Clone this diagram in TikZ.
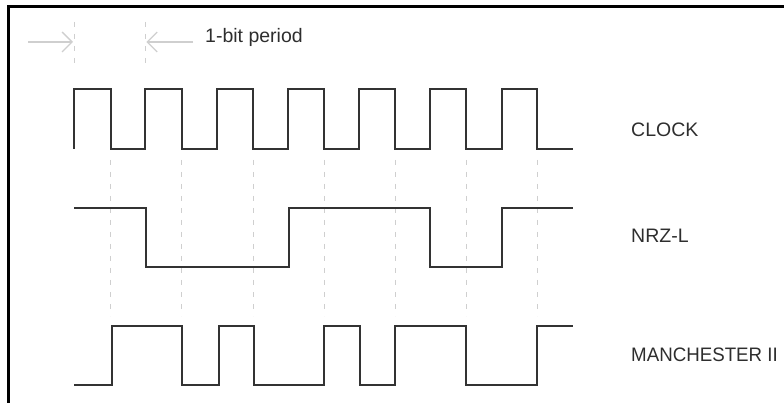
\documentclass[tikz,border=0pt]{standalone}
\usepackage{fontspec}
\setmainfont{Liberation Sans}
\usetikzlibrary{arrows.meta}
\definecolor{wavecol}{HTML}{333333}
\definecolor{guidecol}{HTML}{CFCFCF}
\definecolor{txtcol}{HTML}{2E2E2E}
\tikzset{
  frame/.style={line width=2.5pt, draw=black},
  wave/.style={line width=2pt, draw=wavecol, line join=miter},
  guide/.style={line width=1pt, draw=guidecol, dash pattern=on 5pt off 7pt},
  dimarrow/.style={line width=1.3pt, draw=guidecol, -{Straight Barb[length=10pt,width=20pt]}},
  lbl/.style={anchor=base west, inner sep=0pt, text=txtcol, font=\fontsize{19.5}{23}\selectfont}
}
\begin{document}
\begin{tikzpicture}[x=1pt, y=-1pt]
\useasboundingbox (0,0) rectangle (784,403);
% frame
\draw[frame] (8.7,404) -- (8.7,6.5) -- (785,6.5);
% bit-period markers
\draw[guide] (74,22) -- (74,66);
\draw[guide] (145.3,22) -- (145.3,66);
\coordinate (la) at (28,42);
\coordinate (lb) at (73,42);
\coordinate (ra) at (193,42);
\coordinate (rb) at (146.3,42);
\draw[dimarrow] (la) -- (lb);
\draw[dimarrow] (ra) -- (rb);
\node[lbl] (period) at (205,43) {1-bit period};
% mid-bit guides
\foreach \x in {110.6,181.9,253.2,324.0,395.3,466.3,537.4}
  \draw[guide] (\x,160) -- (\x,316);
% clock
\draw[wave] (74,149) -- (74,89) -- (110.6,89) -- (110.6,149) -- (145.3,149) -- (145.3,89)
  -- (181.9,89) -- (181.9,149) -- (216.6,149) -- (216.6,89)
  -- (253.2,89) -- (253.2,149) -- (287.9,149) -- (287.9,89)
  -- (324.0,89) -- (324.0,149) -- (359.1,149) -- (359.1,89)
  -- (395.3,89) -- (395.3,149) -- (430.4,149) -- (430.4,89)
  -- (466.3,89) -- (466.3,149) -- (501.7,149) -- (501.7,89)
  -- (537.4,89) -- (537.4,149) -- (573,149);
% NRZ-L
\draw[wave] (74,208) -- (146,208) -- (146,267) -- (288.6,267) -- (288.6,208)
  -- (430.4,208) -- (430.4,267) -- (501.7,267) -- (501.7,208) -- (573,208);
% Manchester II
\draw[wave] (74,385) -- (111.6,385) -- (111.6,326) -- (181.9,326) -- (181.9,385)
  -- (218.6,385) -- (218.6,326) -- (253.6,326) -- (253.6,385) -- (324.0,385)
  -- (324.0,326) -- (360,326) -- (360,385) -- (395,385) -- (395,326)
  -- (466.3,326) -- (466.3,385) -- (537.4,385) -- (537.4,326) -- (573,326);
% labels
\node[lbl] (clock) at (631,136.5) {CLOCK};
\node[lbl] (nrz) at (631,243) {NRZ-L};
\node[lbl, xscale=0.96] (manch) at (631,361) {MANCHESTER II};
\end{tikzpicture}
\end{document}
